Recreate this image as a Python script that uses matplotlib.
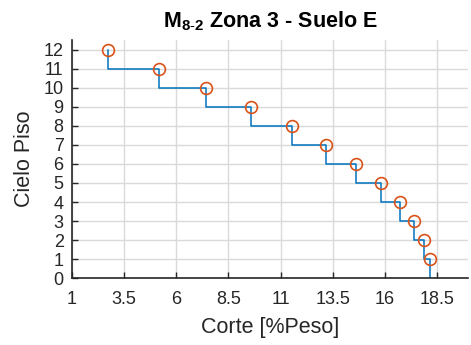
import numpy as np
import matplotlib
matplotlib.use("Agg")
import matplotlib.pyplot as plt

plt.rcParams["font.family"] = ["Liberation Sans", "DejaVu Sans"]
plt.rcParams["mathtext.fontset"] = "custom"
plt.rcParams["mathtext.rm"] = "Liberation Sans"
plt.rcParams["mathtext.bf"] = "Liberation Sans:bold"

# floor levels and shear (% of weight)
pisos = [12, 11, 10, 9, 8, 7, 6, 5, 4, 3, 2, 1]
corte = [2.72, 5.17, 7.44, 9.59, 11.53, 13.16, 14.6, 15.8, 16.74, 17.4, 17.86, 18.15]
xticks = [1, 3.5, 6, 8.5, 11, 13.5, 16, 18.5]
yticks = list(range(0, 13))

# stair line: down from each point to the floor below, then across to the next point
step_x = np.repeat(corte, 2)
step_y = np.column_stack([pisos, np.array(pisos) - 1]).ravel()

fig = plt.figure(figsize=(4.71, 3.45), dpi=100)
ax = fig.add_axes([0.153, 0.194, 0.841, 0.689])

ax.plot(step_x, step_y, color="#0072BD", lw=1.1)
ax.plot(corte, pisos, "o", mfc="none", mec="#D95319", mew=1.2, ms=8.5)

ax.set_xlim(1, 20)
ax.set_ylim(0, 12.5)
ax.set_xticks(xticks)
ax.set_xticklabels([f"{v:g}" for v in xticks])
ax.set_yticks(yticks)
ax.tick_params(direction="in", length=4, width=1, labelsize=13, colors="#262626")
ax.tick_params(axis="x", pad=9)
ax.tick_params(axis="y", pad=6)
ax.grid(True, color="#dadada", lw=1)
ax.set_axisbelow(True)
for s in ["top", "right"]:
    ax.spines[s].set_visible(False)
for s in ["left", "bottom"]:
    ax.spines[s].set_color("#262626")
    ax.spines[s].set_linewidth(1.2)

ax.set_xlabel("Corte [%Peso]", fontsize=15.5, color="#262626", labelpad=7)
ax.set_ylabel("Cielo Piso", fontsize=15.5, color="#262626", labelpad=6)
ax.set_title(r"M$_{\mathbf{8\text{-}2}}$ Zona 3 - Suelo E", fontsize=15.5,
             fontweight="bold", color="black", pad=9)

fig.savefig("out.png", dpi=100)
